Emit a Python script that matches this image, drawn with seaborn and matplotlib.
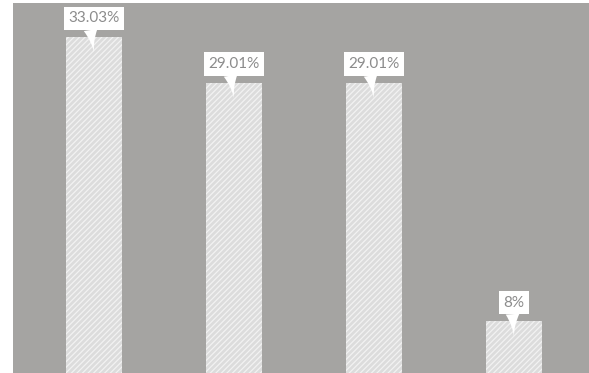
import matplotlib
matplotlib.use("Agg")
import matplotlib.pyplot as plt
import seaborn as sns
import pandas as pd

categories = ["A", "B", "C", "D"]
values = [33.03, 29.01, 29.01, 8]
labels = ["33.03%", "29.01%", "29.01%", "8%"]

sns.set_theme(style="white")
plt.rcParams["hatch.linewidth"] = 0.9
plt.rcParams["font.family"] = ["Lato", "DejaVu Sans"]

df = pd.DataFrame({"cat": categories, "val": values})

fig = plt.figure(figsize=(5.89, 3.73), dpi=100)
ax = fig.add_axes([13 / 589, 0, 576 / 589, 370 / 373])
ax.set_facecolor("#a5a4a2")

sns.barplot(data=df, x="cat", y="val", ax=ax, width=0.4,
            color="#dcdcdc", saturation=1)
for p in ax.patches:
    p.set_hatch("//////")
    p.set_edgecolor("#f2f2f2")
    p.set_linewidth(0)

# callout-style value labels
for i, (v, lab) in enumerate(zip(values, labels)):
    ax.annotate(lab, xy=(i, v - 1.35), xytext=(0, 24.5), textcoords="offset points",
                ha="center", va="center", fontsize=11, color="#8c8c8c",
                bbox=dict(boxstyle="square,pad=0.3", fc="white", ec="none"),
                arrowprops=dict(arrowstyle="wedge,tail_width=0.9,shrink_factor=0.3",
                                fc="white", ec="none", shrinkA=0, shrinkB=0,
                                relpos=(0.42, 0.0)))

ax.set_xlim(-0.5786, 3.536)
ax.set_ylim(3.44, 36.04)
ax.set_xticks([])
ax.set_yticks([])
ax.set_xlabel("")
ax.set_ylabel("")
sns.despine(ax=ax, left=True, bottom=True)

fig.savefig("out.png", dpi=100, facecolor="white")
